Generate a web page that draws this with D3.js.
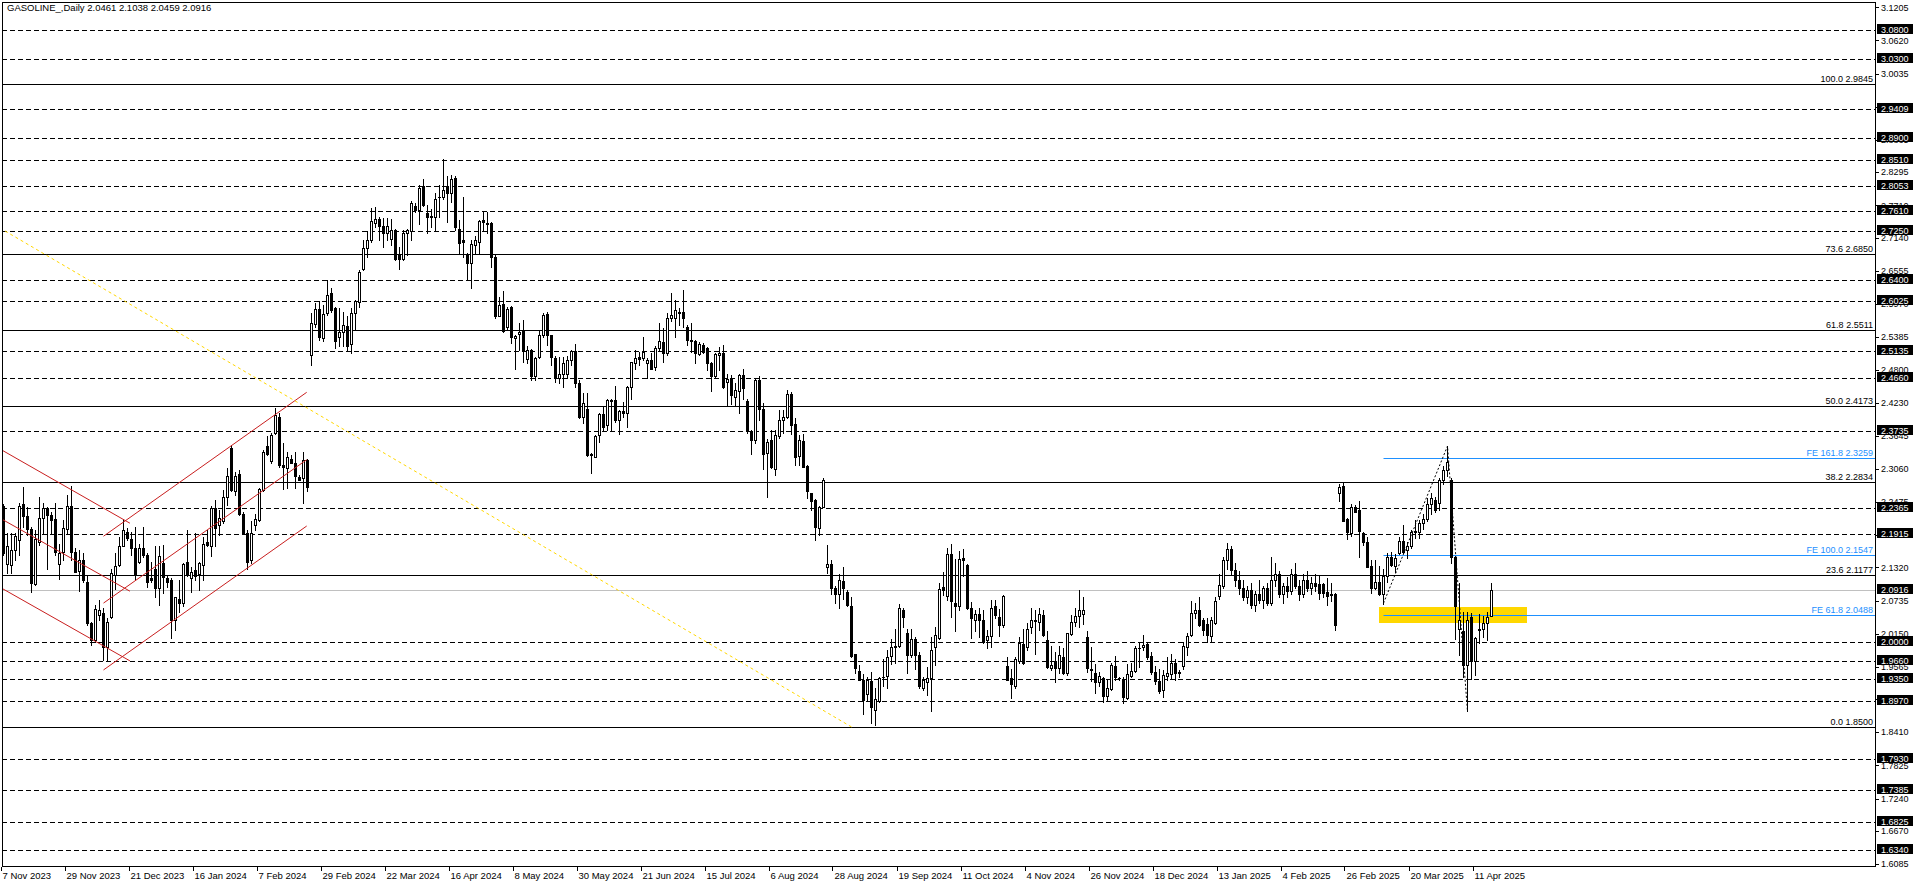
<!DOCTYPE html>
<html><head><meta charset="utf-8">
<script src="https://cdn.jsdelivr.net/npm/d3@7"></script>
<style>
html,body{margin:0;padding:0;background:#fff;overflow:hidden}
svg{display:block;font-family:"Liberation Sans",Arial,sans-serif}
</style></head><body>
<svg id="chart" width="1916" height="888"></svg>
<script>
// ---------------- DATA ----------------
const symbolTitle = "GASOLINE_,Daily  2.0461 2.1038 2.0459 2.0916";

const opens = [
2.240,2.138,2.136,2.162,2.180,2.244,2.222,2.199,2.103,2.176,
2.219,2.236,2.224,2.217,2.138,2.160,2.199,2.241,2.159,2.126,
2.145,2.107,2.034,2.004,2.048,2.051,1.992,2.045,2.119,2.136,
2.170,2.195,2.182,2.166,2.142,2.166,2.154,2.113,2.129,2.095,
2.140,2.114,2.110,2.040,2.076,2.070,2.141,2.114,2.127,2.120,
2.136,2.177,2.169,2.237,2.206,2.213,2.257,2.343,2.267,2.296,
2.227,2.193,2.145,2.207,2.216,2.269,2.346,2.320,2.369,2.397,
2.313,2.307,2.323,2.316,2.292,2.289,2.321,
2.507,2.562,2.588,2.536,2.581,2.616,2.589,2.538,2.548,2.558,
2.526,2.581,2.601,2.658,2.695,2.710,2.740,2.746,2.735,2.722,
2.711,2.727,2.683,2.677,2.722,2.725,2.770,2.763,2.805,2.758,
2.752,2.750,2.785,2.786,2.805,2.792,2.819,2.730,2.710,2.683,
2.670,2.701,2.707,2.745,2.739,2.739,2.679,2.576,2.597,2.556,
2.591,2.536,2.544,2.550,2.499,2.516,2.470,2.503,2.542,2.579,
2.542,2.501,2.467,2.473,2.474,2.498,2.514,2.458,2.397,2.411,
2.330,2.326,2.366,2.403,2.383,2.426,2.427,2.393,2.408,2.404,
2.451,2.492,2.503,2.501,2.492,2.498,2.486,2.519,2.530,2.510,
2.573,2.573,2.582,2.583,2.557,2.534,2.532,2.509,2.524,2.519,
2.493,2.469,2.507,2.510,2.460,2.464,2.433,2.444,2.472,2.426,
2.372,2.357,2.463,2.411,2.334,2.357,2.305,2.363,2.393,2.397,
2.438,2.385,2.329,2.355,2.311,2.263,2.251,2.201,2.239,
2.133,2.138,2.095,2.085,2.108,2.089,2.064,1.979,1.950,1.934,
1.909,1.931,1.881,1.897,1.938,1.941,1.976,1.992,1.993,2.057,
2.017,1.977,2.006,1.977,1.920,1.930,1.936,1.991,2.007,2.098,
2.081,2.155,2.069,2.063,2.148,2.136,2.060,2.040,2.049,2.039,
2.003,2.011,2.064,2.045,2.030,1.958,1.936,1.922,1.967,1.997,
1.992,2.027,2.038,2.036,2.048,2.004,1.954,1.967,1.954,1.974,
1.945,2.014,2.036,2.046,2.050,2.009,1.952,1.946,1.930,1.936,
1.905,1.917,1.958,1.937,1.934,1.901,1.941,1.950,1.989,1.991,
1.997,1.976,1.948,1.931,1.916,1.940,1.944,1.964,1.947,1.958,
1.991,2.013,2.051,2.056,2.039,2.032,2.011,2.034,2.081,
2.100,2.145,2.165,2.128,2.110,2.095,2.080,2.092,2.065,2.085,
2.075,2.095,2.070,2.110,2.120,2.085,2.100,2.090,2.120,2.100,
2.085,2.110,2.095,2.105,
2.103,2.103,2.089,2.085,2.085,2.264,2.276,2.217,2.193,2.239,
2.234,2.193,2.177,2.134,2.095,2.107,2.085,2.116,2.150,2.134,
2.157,2.179,2.162,2.170,2.195,2.195,2.210,2.217,2.244,2.251,
2.246,2.287,2.303,2.287,2.150,2.024,2.019,1.960,2.044,1.966,
2.023,2.023,2.033,2.0461];

const highs = [
2.244,2.192,2.192,2.192,2.245,2.273,2.239,2.204,2.198,2.257,
2.245,2.239,2.230,2.246,2.174,2.216,2.260,2.276,2.166,2.163,
2.157,2.117,2.036,2.066,2.074,2.060,2.042,2.130,2.157,2.186,
2.217,2.201,2.195,2.204,2.174,2.204,2.157,2.142,2.169,2.169,
2.172,2.116,2.113,2.080,2.110,2.140,2.198,2.133,2.192,2.142,
2.186,2.198,2.240,2.251,2.233,2.269,2.307,2.348,2.301,2.304,
2.230,2.198,2.213,2.227,2.272,2.339,2.363,2.369,2.413,2.404,
2.351,2.336,2.330,2.336,2.295,2.336,2.324,
2.581,2.598,2.603,2.595,2.640,2.625,2.592,2.589,2.582,2.575,
2.589,2.604,2.657,2.710,2.725,2.766,2.768,2.751,2.748,2.748,
2.746,2.729,2.697,2.727,2.729,2.778,2.775,2.807,2.817,2.772,
2.764,2.792,2.807,2.852,2.822,2.825,2.823,2.745,2.786,2.686,
2.710,2.717,2.745,2.760,2.760,2.742,2.683,2.610,2.619,2.592,
2.594,2.542,2.564,2.568,2.522,2.517,2.504,2.551,2.581,2.582,
2.543,2.505,2.504,2.503,2.505,2.516,2.527,2.462,2.439,2.439,
2.333,2.366,2.404,2.416,2.429,2.430,2.452,2.409,2.424,2.452,
2.495,2.516,2.513,2.538,2.501,2.511,2.523,2.563,2.554,2.581,
2.616,2.604,2.589,2.621,2.560,2.563,2.533,2.530,2.528,2.521,
2.495,2.510,2.521,2.524,2.473,2.472,2.457,2.473,2.482,2.430,
2.375,2.464,2.469,2.422,2.358,2.375,2.375,2.410,2.410,2.445,
2.442,2.395,2.366,2.367,2.313,2.264,2.252,2.240,2.289,
2.172,2.145,2.100,2.121,2.133,2.092,2.079,1.980,1.960,1.944,
1.939,1.948,1.919,1.938,1.971,1.986,2.005,2.023,2.067,2.061,
2.024,2.024,2.010,1.983,1.939,1.957,2.010,2.027,2.104,2.124,
2.166,2.174,2.146,2.161,2.164,2.138,2.071,2.057,2.060,2.056,
2.021,2.074,2.074,2.058,2.083,1.974,1.952,1.974,2.009,2.023,
2.033,2.060,2.057,2.061,2.057,2.020,1.993,1.983,1.993,1.989,
2.017,2.048,2.060,2.092,2.079,2.019,1.992,1.961,1.948,1.938,
1.934,1.964,1.976,1.939,1.939,1.961,1.963,1.993,2.001,2.013,
1.999,1.983,1.958,1.952,1.951,1.973,1.980,1.970,1.951,2.001,
2.016,2.073,2.069,2.079,2.042,2.042,2.045,2.079,2.120,
2.150,2.175,2.170,2.140,2.125,2.110,2.100,2.105,2.090,2.110,
2.100,2.105,2.150,2.140,2.125,2.105,2.115,2.130,2.140,2.110,
2.120,2.125,2.115,2.120,
2.116,2.105,2.113,2.104,2.086,2.280,2.283,2.219,2.244,2.242,
2.250,2.195,2.185,2.145,2.145,2.134,2.130,2.158,2.160,2.156,
2.185,2.207,2.177,2.198,2.216,2.216,2.227,2.254,2.263,2.257,
2.289,2.311,2.346,2.289,2.152,2.104,2.054,2.054,2.051,2.010,
2.050,2.046,2.054,2.1038];

const lows = [
2.154,2.122,2.122,2.145,2.154,2.204,2.189,2.089,2.101,2.172,
2.192,2.130,2.192,2.154,2.111,2.145,2.192,2.145,2.123,2.091,
2.107,2.030,1.995,2.001,2.039,1.969,1.969,2.042,2.093,2.134,
2.169,2.180,2.154,2.110,2.139,2.151,2.098,2.107,2.079,2.066,
2.086,2.098,2.007,2.022,2.054,2.063,2.116,2.089,2.110,2.092,
2.110,2.169,2.152,2.169,2.189,2.210,2.242,2.266,2.260,2.224,
2.191,2.130,2.139,2.198,2.213,2.267,2.330,2.316,2.367,2.309,
2.270,2.272,2.316,2.272,2.286,2.246,2.266,
2.489,2.557,2.533,2.531,2.578,2.583,2.519,2.522,2.522,2.516,
2.510,2.551,2.592,2.656,2.679,2.707,2.732,2.709,2.698,2.710,
2.701,2.675,2.658,2.675,2.683,2.709,2.760,2.738,2.770,2.723,
2.733,2.727,2.751,2.783,2.742,2.777,2.727,2.686,2.680,2.640,
2.625,2.686,2.686,2.725,2.722,2.663,2.573,2.575,2.548,2.551,
2.528,2.482,2.516,2.495,2.492,2.463,2.463,2.501,2.539,2.525,
2.489,2.460,2.457,2.451,2.467,2.489,2.451,2.395,2.387,2.329,
2.298,2.326,2.354,2.372,2.375,2.375,2.389,2.367,2.397,2.380,
2.430,2.483,2.489,2.498,2.467,2.482,2.480,2.516,2.495,2.507,
2.567,2.539,2.560,2.557,2.524,2.513,2.492,2.507,2.510,2.480,
2.444,2.467,2.480,2.448,2.417,2.420,2.416,2.405,2.430,2.370,
2.332,2.352,2.392,2.305,2.257,2.307,2.295,2.360,2.369,2.395,
2.367,2.313,2.313,2.309,2.254,2.233,2.180,2.189,2.238,
2.122,2.085,2.070,2.060,2.077,2.064,1.974,1.945,1.933,1.874,
1.898,1.858,1.854,1.895,1.922,1.920,1.961,1.963,1.992,2.027,
1.945,1.974,1.952,1.919,1.916,1.907,1.879,1.960,2.005,2.083,
2.074,2.044,2.019,2.057,2.116,2.058,2.007,2.019,2.010,1.998,
1.989,1.992,2.042,2.011,2.027,1.933,1.901,1.920,1.964,1.961,
1.986,2.016,1.980,2.021,2.011,1.954,1.951,1.929,1.946,1.944,
1.942,2.013,2.028,2.027,2.032,1.948,1.932,1.910,1.923,1.895,
1.898,1.916,1.934,1.934,1.893,1.899,1.938,1.948,1.956,1.987,
1.970,1.944,1.926,1.911,1.903,1.933,1.936,1.934,1.939,1.952,
1.977,2.011,2.042,2.029,2.013,2.001,2.001,2.032,2.077,
2.095,2.130,2.120,2.100,2.085,2.075,2.070,2.060,2.055,2.070,
2.060,2.065,2.065,2.100,2.080,2.070,2.080,2.085,2.095,2.075,
2.080,2.090,2.085,2.090,
2.077,2.079,2.066,2.072,2.022,2.250,2.213,2.182,2.187,2.229,
2.150,2.171,2.133,2.087,2.093,2.083,2.068,2.107,2.134,2.124,
2.156,2.158,2.148,2.167,2.183,2.183,2.199,2.214,2.226,2.230,
2.233,2.280,2.293,2.139,2.005,1.977,1.939,1.878,1.935,1.942,
1.999,2.010,2.003,2.0459];

const closes = [
2.157,2.169,2.163,2.187,2.240,2.222,2.199,2.104,2.182,2.219,
2.236,2.224,2.216,2.160,2.158,2.201,2.241,2.160,2.124,2.145,
2.109,2.033,2.004,2.058,2.057,1.992,2.036,2.122,2.134,2.170,
2.198,2.183,2.167,2.119,2.167,2.154,2.107,2.110,2.095,2.152,
2.115,2.107,2.040,2.079,2.070,2.138,2.120,2.123,2.117,2.139,
2.174,2.172,2.236,2.201,2.220,2.257,2.294,2.269,2.294,2.227,
2.192,2.142,2.192,2.217,2.270,2.336,2.332,2.366,2.401,2.312,
2.310,2.326,2.317,2.294,2.287,2.321,2.273,
2.563,2.588,2.539,2.579,2.613,2.586,2.532,2.548,2.560,2.522,
2.581,2.602,2.654,2.695,2.710,2.743,2.746,2.735,2.722,2.735,
2.727,2.677,2.677,2.722,2.727,2.775,2.763,2.801,2.772,2.751,
2.751,2.783,2.786,2.798,2.792,2.817,2.732,2.704,2.707,2.669,
2.703,2.709,2.744,2.742,2.738,2.680,2.575,2.595,2.550,2.588,
2.538,2.541,2.548,2.515,2.516,2.470,2.501,2.542,2.578,2.542,
2.503,2.467,2.473,2.493,2.498,2.514,2.458,2.397,2.422,2.330,
2.332,2.363,2.403,2.380,2.427,2.427,2.392,2.408,2.404,2.451,
2.494,2.501,2.499,2.513,2.498,2.482,2.520,2.532,2.510,2.573,
2.577,2.586,2.581,2.573,2.534,2.532,2.511,2.526,2.513,2.493,
2.469,2.509,2.511,2.451,2.464,2.436,2.445,2.472,2.448,2.372,
2.357,2.462,2.411,2.332,2.354,2.309,2.366,2.393,2.398,2.438,
2.383,2.326,2.357,2.310,2.266,2.250,2.203,2.238,2.286,
2.138,2.095,2.085,2.110,2.095,2.066,1.976,1.954,1.934,1.898,
1.933,1.885,1.899,1.936,1.939,1.974,1.992,1.993,2.060,2.045,
1.977,2.005,1.977,1.922,1.933,1.936,1.986,2.013,2.094,2.092,
2.155,2.073,2.064,2.146,2.145,2.061,2.042,2.049,2.040,2.001,
2.011,2.061,2.048,2.030,2.081,1.934,1.927,1.971,1.998,1.963,
2.024,2.040,2.039,2.049,2.013,1.957,1.960,1.954,1.977,1.945,
2.016,2.036,2.046,2.056,2.057,1.954,1.951,1.930,1.940,1.905,
1.919,1.960,1.938,1.936,1.903,1.944,1.950,1.989,1.990,1.995,
1.974,1.948,1.932,1.914,1.942,1.945,1.963,1.945,1.946,1.993,
2.011,2.051,2.057,2.031,2.021,2.013,2.039,2.073,2.101,
2.145,2.165,2.128,2.110,2.095,2.080,2.092,2.065,2.085,2.075,
2.095,2.070,2.110,2.120,2.085,2.100,2.090,2.120,2.100,2.085,
2.110,2.095,2.105,2.100,
2.086,2.087,2.082,2.083,2.030,2.274,2.214,2.195,2.239,2.230,
2.197,2.176,2.133,2.095,2.107,2.085,2.117,2.150,2.136,2.148,
2.179,2.160,2.169,2.195,2.197,2.210,2.217,2.244,2.254,2.233,
2.287,2.304,2.318,2.151,2.064,2.039,1.960,2.040,1.966,2.007,
2.022,2.034,2.045,2.0916];

const dateLabels = ["7 Nov 2023","29 Nov 2023","21 Dec 2023","16 Jan 2024","7 Feb 2024","29 Feb 2024",
"22 Mar 2024","16 Apr 2024","8 May 2024","30 May 2024","21 Jun 2024","15 Jul 2024","6 Aug 2024",
"28 Aug 2024","19 Sep 2024","11 Oct 2024","4 Nov 2024","26 Nov 2024","18 Dec 2024","13 Jan 2025",
"4 Feb 2025","26 Feb 2025","20 Mar 2025","11 Apr 2025"];
const dateLabelBars = [0,16,32,48,64,80,96,112,128,144,160,176,192,208,224,240,256,272,288,304,320,336,352,368];

const priceTicks = [3.1205,3.0620,3.0035,2.9450,2.8865,2.8295,2.7710,2.7140,2.6555,2.5970,2.5385,2.4800,
2.4230,2.3645,2.3060,2.2475,2.1890,2.1320,2.0735,2.0150,1.9565,1.8995,1.8410,1.7825,1.7240,1.6670,1.6085];

const dashedLevels = [3.0800,3.0300,2.9409,2.8900,2.8510,2.8053,2.7610,2.7250,2.6400,2.6025,2.5135,2.4660,
2.3735,2.2365,2.1915,2.0000,1.9660,1.9350,1.8970,1.7930,1.7385,1.6825,1.6340];
const currentPrice = 2.0916;

const fibPercents = ["100.0","73.6","61.8","50.0","38.2","23.6","0.0"];
const fibValues = [2.9845,2.6850,2.5511,2.4173,2.2834,2.1177,1.8500];

const fePercents = ["161.8","100.0","61.8"];
const feValues = [2.3259,2.1547,2.0488];
const feAnchorBars = [345,361,366];
const feAnchorPrices = [2.0689,2.3461,1.8775];

const zoneBars = [344,381];
const zonePrices = [2.0619,2.0342];

// channel segments: [barStart, priceStart, barEnd, priceEnd]
const downChannel = [[-0.9,2.341,31.6,2.210],[-0.9,2.219,31.6,2.090],[-0.9,2.097,31.6,1.967]];
const upChannel = [[25.0,2.187,75.8,2.441],[25.0,2.069,75.8,2.322],[25.0,1.951,75.8,2.205]];
const yellowTrend = [-0.9,2.731,212.1,1.850];

// ---------------- DRAW ----------------
const svg = d3.select("#chart");
const plotL = 2, plotT = 2, plotR = 1876, plotB = 867;

const x = d3.scaleLinear().domain([0, 372]).range([3.5, 1491.5]);
const y = d3.scaleLinear().domain([1.6085, 3.1205]).range([864, 7.3]);
const py = v => Math.round(y(v)) + 0.5;
const fmt = d3.format(".4f");

svg.append("rect").attr("width",1916).attr("height",888).attr("fill","#fff");
svg.append("defs").append("clipPath").attr("id","plot")
  .append("rect").attr("x",plotL).attr("y",plotT).attr("width",plotR-plotL).attr("height",plotB-plotT);

const g = svg.append("g").attr("clip-path","url(#plot)");

// yellow zone
g.append("rect")
  .attr("x", x(zoneBars[0]) - 0.5).attr("y", Math.round(y(zonePrices[0])))
  .attr("width", x(zoneBars[1]) - x(zoneBars[0]))
  .attr("height", Math.round(y(zonePrices[1])) - Math.round(y(zonePrices[0])))
  .attr("fill", "#FFD700");

// dashed horizontal levels
g.selectAll("line.dash").data(dashedLevels).join("line")
  .attr("x1", plotL).attr("x2", plotR).attr("y1", d => py(d)).attr("y2", d => py(d))
  .attr("stroke", "#000").attr("stroke-width", 1).attr("stroke-dasharray", "5,3");

// current price line
g.append("line").attr("x1",plotL).attr("x2",plotR).attr("y1",py(currentPrice)).attr("y2",py(currentPrice))
  .attr("stroke","#C0C0C0").attr("stroke-width",1);

// fib retracement levels
g.selectAll("line.fib").data(fibValues).join("line")
  .attr("x1", plotL).attr("x2", plotR).attr("y1", d => py(d)).attr("y2", d => py(d))
  .attr("stroke", "#000").attr("stroke-width", 1);
g.selectAll("text.fib").data(fibValues).join("text")
  .attr("x", plotR - 3).attr("y", d => py(d) - 2.5).attr("text-anchor","end")
  .attr("font-size", 9).attr("fill","#000")
  .text((d,i) => fibPercents[i] + " " + fmt(d));

// fibo expansion levels
const feX0 = x(feAnchorBars[0]);
g.selectAll("line.fe").data(feValues).join("line")
  .attr("x1", feX0).attr("x2", plotR).attr("y1", d => py(d)).attr("y2", d => py(d))
  .attr("stroke", "#1E90FF").attr("stroke-width", 1);
g.selectAll("text.fe").data(feValues).join("text")
  .attr("x", plotR - 3).attr("y", d => py(d) - 2.5).attr("text-anchor","end")
  .attr("font-size", 9).attr("fill","#1E90FF")
  .text((d,i) => "FE " + fePercents[i] + " " + fmt(d));

// candles
const idx = d3.range(closes.length);
const cg = g.append("g");
idx.forEach(i => {
  const cx = x(i);
  const o = opens[i], c = closes[i], h = highs[i], l = lows[i];
  cg.append("line").attr("x1",cx).attr("x2",cx)
    .attr("y1", Math.round(y(h))).attr("y2", Math.round(y(l)) + 1)
    .attr("stroke","#000").attr("stroke-width",1);
  const top = Math.round(y(Math.max(o,c))), bot = Math.round(y(Math.min(o,c)));
  if (bot - top < 2) {
    cg.append("rect").attr("x", cx-1.5).attr("y", top).attr("width",3).attr("height", Math.max(1, bot-top+1)).attr("fill","#000");
  } else if (c < o) {
    cg.append("rect").attr("x", cx-1.5).attr("y", top).attr("width",3).attr("height", bot-top+1).attr("fill","#000");
  } else {
    cg.append("rect").attr("x", cx-1).attr("y", top+0.5).attr("width",2).attr("height", bot-top)
      .attr("fill","#fff").attr("stroke","#000").attr("stroke-width",1);
  }
});

// channels
const segLine = (sel, segs, color, dash) => sel.selectAll(null).data(segs).join("line")
  .attr("x1", d => x(d[0])).attr("y1", d => y(d[1])).attr("x2", d => x(d[2])).attr("y2", d => y(d[3]))
  .attr("stroke", color).attr("stroke-width", 1).attr("stroke-dasharray", dash);
segLine(g.append("g"), downChannel, "#C81E1E", null);
segLine(g.append("g"), upChannel, "#C81E1E", null);
segLine(g.append("g"), [yellowTrend], "#FFD700", "3,3");

// FE zigzag
const zz = d3.line().x(d => x(d[0])).y(d => y(d[1]));
g.append("path").attr("d", zz(feAnchorBars.map((b,i) => [b, feAnchorPrices[i]])))
  .attr("fill","none").attr("stroke","#000").attr("stroke-width",1).attr("stroke-dasharray","2,2");

// frame
svg.append("rect").attr("x",plotL+0.5).attr("y",plotT+0.5).attr("width",plotR-plotL-1).attr("height",plotB-plotT-1)
  .attr("fill","none").attr("stroke","#000").attr("stroke-width",1);

// title
svg.append("text").attr("x",7).attr("y",10.5).attr("font-size",9.5).attr("fill","#000").text(symbolTitle);

// right axis ticks
const ax = svg.append("g");
ax.selectAll("line.t").data(priceTicks).join("line")
  .attr("x1", plotR).attr("x2", plotR + 3).attr("y1", d => py(d)).attr("y2", d => py(d))
  .attr("stroke","#000");
ax.selectAll("text.t").data(priceTicks).join("text")
  .attr("x", plotR + 5).attr("y", d => y(d) + 3.2).attr("font-size", 9).attr("fill","#000")
  .text(d => fmt(d));

// price boxes
const boxVals = dashedLevels.concat([currentPrice]);
const bx = svg.append("g");
bx.selectAll("rect").data(boxVals).join("rect")
  .attr("x", plotR + 1).attr("y", d => Math.round(y(d)) - 6).attr("width", 36).attr("height", 10)
  .attr("fill","#000");
bx.selectAll("text").data(boxVals).join("text")
  .attr("x", plotR + 5).attr("y", d => Math.round(y(d)) + 2.5).attr("font-size", 9).attr("fill","#fff")
  .text(d => fmt(d));

// bottom date axis
const dx = svg.append("g");
dx.selectAll("line").data(dateLabelBars).join("line")
  .attr("x1", d => Math.round(x(d)) - 2.5).attr("x2", d => Math.round(x(d)) - 2.5)
  .attr("y1", plotB).attr("y2", plotB + 4).attr("stroke","#000");
dx.selectAll("text").data(dateLabelBars).join("text")
  .attr("x", d => x(d) - 1).attr("y", 878.5).attr("font-size", 9.5).attr("fill","#000")
  .text((d,i) => dateLabels[i]);
</script>
</body></html>
